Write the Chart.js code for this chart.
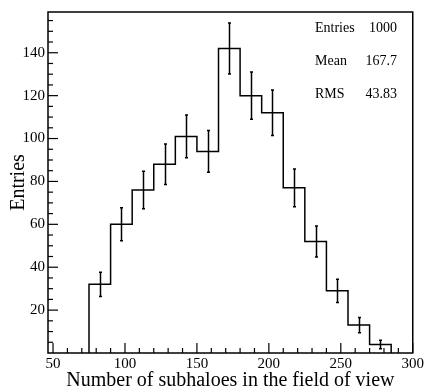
<!DOCTYPE html>
<html>
<head>
<meta charset="utf-8">
<script src="https://cdn.jsdelivr.net/npm/chart.js@4/dist/chart.umd.min.js"></script>
<style>
html, body { margin: 0; padding: 0; background: #fff; }
#wrap { width: 426px; height: 389px; position: relative; }
</style>
</head>
<body>
<div id="wrap"><canvas id="histChart"></canvas></div>
<script>
// bin edges (lower), counts and errors
var binLow = [75, 90, 105, 120, 135, 150, 165, 180, 195, 210, 225, 240, 255, 270];
var binWidth = 15;
var counts = [32, 60, 76, 88, 101, 94, 142, 120, 112, 77, 52, 29, 13, 4];
var errors = [5.7, 7.7, 8.7, 9.4, 10.0, 9.7, 11.9, 11.0, 10.6, 8.8, 7.2, 5.4, 3.6, 2.0];
var xTicks = [50, 100, 150, 200, 250, 300];
var yTicks = [20, 40, 60, 80, 100, 120, 140];
var statLabels = ["Entries", "Mean", "RMS"];
var statValues = ["1000", "167.7", "43.83"];

var FONT = "'Liberation Serif', 'DejaVu Serif', serif";

// step outline of the histogram
var stepPoints = [{x: binLow[0], y: 0}];
binLow.forEach(function (lo, i) {
    stepPoints.push({x: lo, y: counts[i]});
    stepPoints.push({x: lo + binWidth, y: counts[i]});
});
stepPoints.push({x: binLow[binLow.length - 1] + binWidth, y: 0});

var centers = binLow.map(function (lo, i) {
    return {x: lo + binWidth / 2, y: counts[i]};
});

var frameAndBars = {
    id: 'frameAndBars',
    afterDatasetsDraw: function (chart) {
        var ctx = chart.ctx;
        var area = chart.chartArea;
        var xs = chart.scales.x;
        var ys = chart.scales.y;
        ctx.save();
        ctx.strokeStyle = '#000';
        ctx.lineWidth = 1.5;

        // error bars with tiny end marks
        centers.forEach(function (c, i) {
            var px = Math.round(xs.getPixelForValue(c.x)) + 0.5;
            var y1 = ys.getPixelForValue(c.y - errors[i]);
            var y2 = ys.getPixelForValue(c.y + errors[i]);
            ctx.beginPath();
            ctx.moveTo(px, y1);
            ctx.lineTo(px, y2);
            ctx.moveTo(px - 1.5, y1);
            ctx.lineTo(px + 1.5, y1);
            ctx.moveTo(px - 1.5, y2);
            ctx.lineTo(px + 1.5, y2);
            ctx.stroke();
        });

        // frame
        ctx.lineWidth = 1.5;
        ctx.strokeRect(area.left, area.top, area.right - area.left, area.bottom - area.top);

        // inward ticks, x
        ctx.lineWidth = 1.2;
        for (var v = 50; v <= 300; v += 10) {
            var px = xs.getPixelForValue(v);
            if (px < area.left) continue;
            var len = (v % 50 === 0) ? 10 : 5;
            ctx.beginPath();
            ctx.moveTo(px, area.bottom);
            ctx.lineTo(px, area.bottom - len);
            ctx.stroke();
        }
        // inward ticks, y
        for (var w = 5; w <= 155; w += 5) {
            var py = ys.getPixelForValue(w);
            var ylen = (w % 20 === 0) ? 10 : 5;
            ctx.beginPath();
            ctx.moveTo(area.left, py);
            ctx.lineTo(area.left + ylen, py);
            ctx.stroke();
        }

        // stats text
        ctx.fillStyle = '#000';
        ctx.font = '14px ' + FONT;
        ctx.textBaseline = 'middle';
        statLabels.forEach(function (lab, i) {
            var ty = 28 + i * 33;
            ctx.textAlign = 'left';
            ctx.fillText(lab, 315, ty);
            ctx.textAlign = 'right';
            ctx.fillText(statValues[i], 397, ty);
        });
        ctx.restore();
    }
};

var chartElement = document.getElementById('histChart').getContext('2d');
var chartObject = new Chart(chartElement, {
    type: 'line',
    data: {
        datasets: [{
            data: stepPoints,
            borderColor: '#000',
            borderWidth: 1.5,
            pointRadius: 0,
            fill: false,
            tension: 0
        }]
    },
    options: {
        responsive: true,
        maintainAspectRatio: false,
        animation: false,
        layout: { padding: { top: 6, right: 12, left: 0, bottom: 0 } },
        plugins: { legend: { display: false }, tooltip: { enabled: false } },
        scales: {
            x: {
                type: 'linear',
                min: 46.5,
                max: 300,
                afterBuildTicks: function (scale) {
                    scale.ticks = xTicks.map(function (v) { return {value: v}; });
                },
                afterFit: function (scale) { scale.height = 36; },
                grid: { display: false, drawTicks: false },
                border: { display: false },
                ticks: {
                    color: '#000',
                    padding: 2,
                    maxRotation: 0,
                    font: { family: FONT, size: 15 }
                },
                title: {
                    display: true,
                    text: 'Number of subhaloes in the field of view',
                    color: '#000',
                    padding: { top: 0, bottom: -2 },
                    font: { family: FONT, size: 20, lineHeight: 1 }
                }
            },
            y: {
                min: 0,
                max: 159,
                afterBuildTicks: function (scale) {
                    scale.ticks = yTicks.map(function (v) { return {value: v}; });
                },
                afterFit: function (scale) { scale.width = 48; },
                grid: { display: false, drawTicks: false },
                border: { display: false },
                ticks: {
                    color: '#000',
                    padding: 3,
                    font: { family: FONT, size: 15 }
                },
                title: {
                    display: true,
                    text: 'Entries',
                    color: '#000',
                    padding: { top: 9, bottom: 0 },
                    font: { family: FONT, size: 20, lineHeight: 1 }
                }
            }
        }
    },
    plugins: [frameAndBars]
});
</script>
</body>
</html>
